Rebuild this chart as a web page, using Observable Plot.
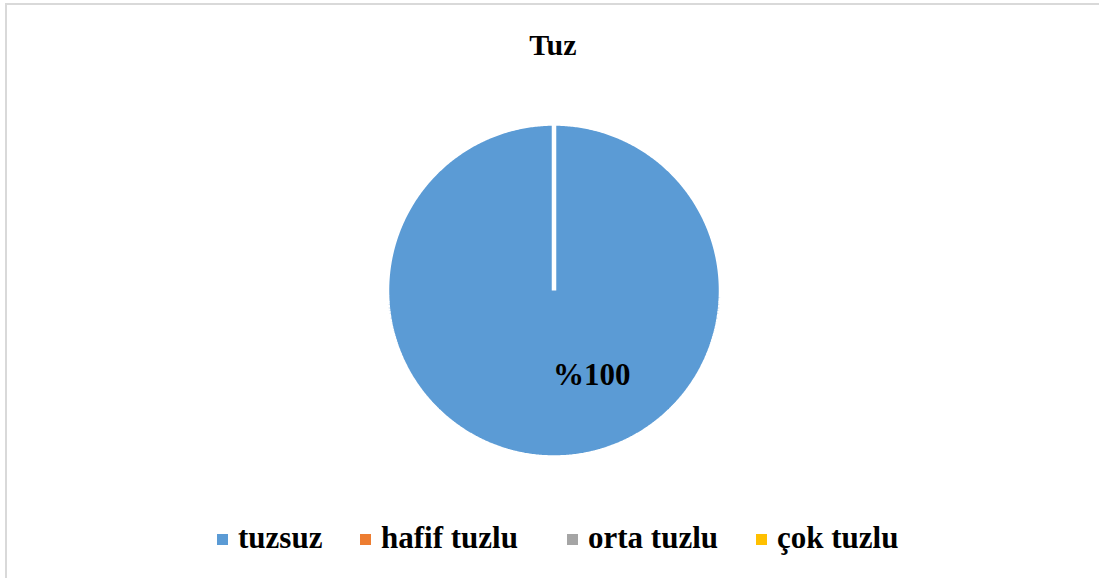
<!DOCTYPE html>
<html>
<head>
<meta charset="utf-8">
<script src="https://cdn.jsdelivr.net/npm/d3@7"></script>
<script src="https://cdn.jsdelivr.net/npm/@observablehq/plot@0.6"></script>
<style>
  html, body { margin: 0; padding: 0; background: #fff; overflow: hidden; }
  body { width: 1099px; height: 578px; position: relative; font-family: "Liberation Serif", "Times New Roman", serif; }
  #frame { position: absolute; left: 5px; top: 3px; width: 1200px; height: 700px; border: 2px solid #d9d9d9; box-sizing: border-box; }
  #title { position: absolute; left: 0; top: 30px; width: 1106px; text-align: center; font-weight: bold; font-size: 30px; line-height: 30px; color: #000; }
  #chart { position: absolute; left: 0; top: 100px; }
  #legend { position: absolute; left: 0; top: 522px; width: 1099px; height: 31px; }
  .item { position: absolute; top: 0; display: flex; align-items: center; font-weight: bold; font-size: 31px; line-height: 31px; color: #000; white-space: nowrap; }
  .sw { width: 11px; height: 11px; margin-right: 10px; margin-top: 3px; flex: none; }
</style>
</head>
<body>
<div id="frame"></div>
<div id="title"></div>
<div id="chart"></div>
<div id="legend"></div>
<script>
// ---- data ----
const chartTitle = "Tuz";
const categories = ["tuzsuz", "hafif tuzlu", "orta tuzlu", "çok tuzlu"];
const values = [100, 0, 0, 0];
const dataLabels = ["%100", "%0", "%0", "%0"];
const colors = ["#5B9BD5", "#ED7D31", "#A5A5A5", "#FFC000"];

// ---- layout ----
const W = 1099, H = 380;
const cx = 553.5, cy = 190, R = 167;
const legendLeft = [217, 360, 567, 756];
const labelRadius = 0.556, labelAngleShift = -0.42;

const rows = categories.map((name, i) => ({name, value: values[i], label: dataLabels[i]}));
const arcs = d3.pie().sort(null).value(d => d.value)(rows);

const pts = [];
const labelRows = [];
arcs.forEach(a => {
  if (a.data.value <= 0) return;
  const name = a.data.name;
  pts.push({name, x: 0, y: 0});
  const n = Math.max(2, Math.ceil((a.endAngle - a.startAngle) / (2 * Math.PI) * 720));
  for (let k = 0; k <= n; k++) {
    const t = a.startAngle + (a.endAngle - a.startAngle) * k / n;
    pts.push({name, x: Math.sin(t), y: Math.cos(t)});
  }
  const mid = (a.startAngle + a.endAngle) / 2 + labelAngleShift;
  labelRows.push({name, text: a.data.label, x: labelRadius * Math.sin(mid), y: labelRadius * Math.cos(mid)});
});

document.getElementById("title").textContent = chartTitle;

const plot = Plot.plot({
  width: W,
  height: H,
  margin: 0,
  x: {domain: [-cx / R, (W - cx) / R], axis: null},
  y: {domain: [-(H - cy) / R, cy / R], axis: null},
  color: {domain: categories, range: colors},
  style: {background: "transparent"},
  marks: [
    Plot.line(pts, {x: "x", y: "y", z: "name", fill: "name", stroke: "white", strokeWidth: 4.5, curve: "linear-closed", strokeLinejoin: "miter"}),
    Plot.text(labelRows, {x: "x", y: "y", text: "text", fontSize: 31, fontWeight: "bold", fontFamily: "Liberation Serif, Times New Roman, serif", fill: "#000"})
  ]
});
document.getElementById("chart").appendChild(plot);

const legend = document.getElementById("legend");
categories.forEach((c, i) => {
  const item = document.createElement("div");
  item.className = "item";
  item.style.left = legendLeft[i] + "px";
  const sw = document.createElement("span");
  sw.className = "sw";
  sw.style.background = colors[i];
  const tx = document.createElement("span");
  tx.textContent = c;
  item.appendChild(sw);
  item.appendChild(tx);
  legend.appendChild(item);
});
</script>
</body>
</html>
